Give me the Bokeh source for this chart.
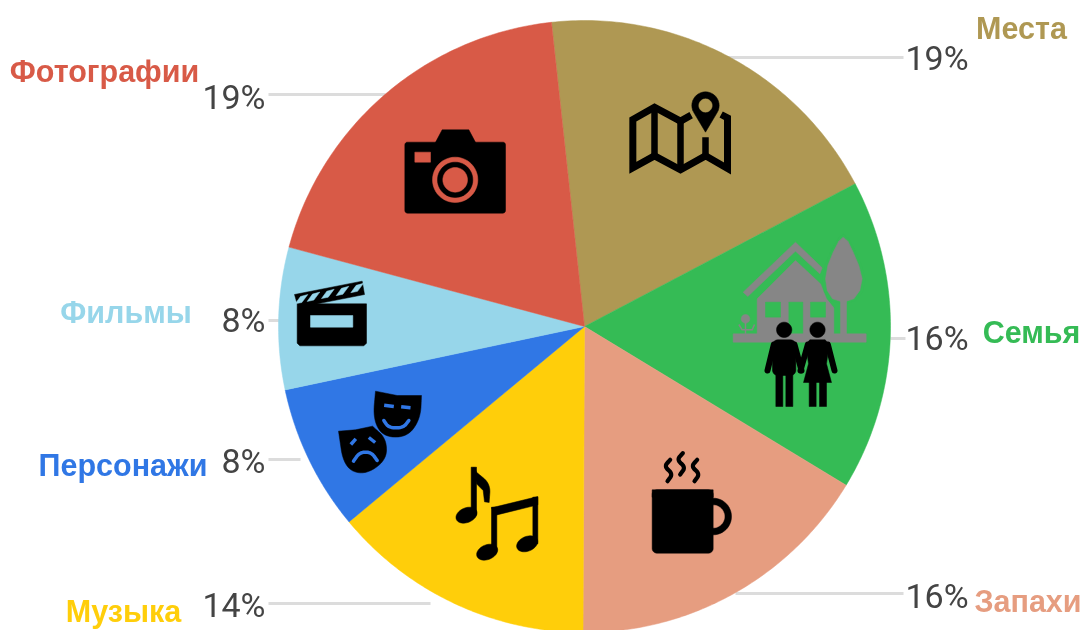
import math
from bokeh.plotting import figure
from bokeh.embed import file_html
from bokeh.resources import INLINE
from bokeh.models import ColumnDataSource
from bokeh.core.properties import value

# ---- data, clockwise from the first slice
categories = ["Места", "Семья", "Запахи", "Музыка", "Персонажи", "Фильмы", "Фотографии"]
shares = [19.0, 16.4, 16.4, 13.9, 7.7, 7.5, 19.1]
pct_labels = ["19%", "16%", "16%", "14%", "8%", "8%", "19%"]
colors = ["#AF9853", "#35BB55", "#E69D80", "#FFCE0A", "#3077E5", "#97D6EA", "#D85A47"]

W, H = 1083, 630
CX, CY, R = 584, 326, 306
START_DEG = -6.2

p = figure(width=W, height=H, x_range=(0, W), y_range=(H, 0), output_backend="svg",
           toolbar_location=None, min_border=0, outline_line_color=None)
p.axis.visible = False
p.grid.visible = False
p.styles = {"position": "fixed", "left": "0px", "top": "0px"}

# ---- leader lines (behind the pie)
leaders = [(725, 903, 57), (890, 905, 338), (735, 903, 593), (268, 430, 603),
           (268, 300, 459), (268, 282, 320), (268, 385, 94)]
for x0, x1, y in leaders:
    p.line([x0, x1], [y, y], line_color="#DCDCDC", line_width=3)

# ---- pie
fractions = [s / sum(shares) for s in shares]
starts, ends, acc = [], [], 0.0
for f in fractions:
    a0 = math.radians(START_DEG - 90) + acc * 2 * math.pi
    acc += f
    a1 = math.radians(START_DEG - 90) + acc * 2 * math.pi
    starts.append(a0)
    ends.append(a1)
pie = ColumnDataSource(dict(start=starts, end=ends, color=colors, cat=categories))
xs_all, ys_all = [], []
for a0, a1 in zip(starts, ends):
    n = 90
    xs_all.append([CX] + [CX + R * math.cos(a0 + (a1 - a0) * i / n) for i in range(n + 1)])
    ys_all.append([CY] + [CY + R * math.sin(a0 + (a1 - a0) * i / n) for i in range(n + 1)])
pie.data["xs"] = xs_all
pie.data["ys"] = ys_all
p.patches("xs", "ys", source=pie, fill_color="color", line_color="color", line_width=0.5)

# ---- icon helpers: points are read in zoom crops (3x) with an origin
def Z(ox, oy, pts):
    return [ox + a / 3 for a, _ in pts], [oy + b / 3 for _, b in pts]

def poly(ox, oy, pts, c):
    x, y = Z(ox, oy, pts)
    p.patch(x, y, fill_color=c, line_color=c, line_width=0.5)

def rect(ox, oy, x0, y0, x1, y1, c):
    poly(ox, oy, [(x0, y0), (x1, y0), (x1, y1), (x0, y1)], c)

def circ(ox, oy, cx, cy, rx, c, ry=None, rot=0.0):
    ry = rx if ry is None else ry
    pts = []
    for i in range(48):
        t = 2 * math.pi * i / 48
        a, b = rx * math.cos(t), ry * math.sin(t)
        pts.append((cx + a * math.cos(rot) - b * math.sin(rot), cy + a * math.sin(rot) + b * math.cos(rot)))
    poly(ox, oy, pts, c)

def stroke(ox, oy, pts, w, c, cap="butt", join="miter"):
    x, y = Z(ox, oy, pts)
    p.line(x, y, line_color=c, line_width=w, line_cap=cap, line_join=join)

def rrect(ox, oy, x0, y0, x1, y1, r, c):
    pts = []
    for cx, cy, s in [(x1 - r, y0 + r, -90), (x1 - r, y1 - r, 0), (x0 + r, y1 - r, 90), (x0 + r, y0 + r, 180)]:
        for i in range(7):
            t = math.radians(s + 15 * i)
            pts.append((cx + r * math.cos(t), cy + r * math.sin(t)))
    poly(ox, oy, pts, c)

def chaikin(pts, n=3):
    # rounds an open curve, its two ends stay where they are
    for _ in range(n):
        out = [pts[0]]
        for (a, b), (c, d) in zip(pts, pts[1:]):
            out.append((0.75 * a + 0.25 * c, 0.75 * b + 0.25 * d))
            out.append((0.25 * a + 0.75 * c, 0.25 * b + 0.75 * d))
        out.append(pts[-1])
        pts = out
    return pts

K = "#000000"
RED, GOLD, GREEN, SALMON, BLUE, SKY = colors[6], colors[0], colors[1], colors[2], colors[4], colors[5]
GREY = "#868686"

# camera
o = (380, 80)
poly(*o, [(185, 148), (265, 148), (290, 195), (160, 195)], K)
rrect(*o, 73, 185, 375, 398, 8, K)
rect(*o, 103, 215, 150, 245, RED)
circ(*o, 224, 298, 68, RED)
circ(*o, 224, 298, 53, K)
circ(*o, 224, 298, 37, RED)

# map with a pin
stroke(*o, [(932, 104), (900, 122), (822, 80), (757, 117), (757, 262), (822, 226), (900, 268),
            (975, 226), (1041, 264), (1041, 112), (1022, 102)], 7, K)
stroke(*o, [(822, 78), (822, 228)], 6.5, K)
stroke(*o, [(900, 120), (900, 270)], 6.5, K)
stroke(*o, [(975, 170), (975, 230)], 6.5, K)
pin = [(975 + 41 * math.cos(math.radians(a)), 75 + 41 * math.sin(math.radians(a))) for a in range(150, 391, 10)]
poly(*o, pin + [(975, 155)], K)
circ(*o, 975, 75, 20, GOLD)

# house, tree and couple
o = (720, 220)
poly(*o, [(68, 215), (225, 65), (305, 142), (298, 160), (225, 92), (82, 228)], GREY)
poly(*o, [(110, 345), (110, 235), (225, 120), (300, 190), (318, 235), (340, 262), (340, 345)], GREY)
rect(*o, 135, 245, 180, 290, GREEN)
rect(*o, 205, 245, 247, 345, GREEN)
rect(*o, 270, 245, 315, 290, GREEN)
tree = [(368, 50), (382, 62), (398, 95), (415, 135), (425, 175), (418, 210), (400, 235), (368, 245),
        (336, 235), (320, 210), (315, 175), (322, 135), (338, 95), (355, 62)]
poly(*o, [(a + (a - 368) * 0.18, b + (b - 160) * 0.08) for a, b in tree], GREEN)
poly(*o, tree, GREY)
rect(*o, 360, 240, 378, 345, GREY)
rect(*o, 38, 340, 437, 365, GREY)
circ(*o, 75, 295, 13, GREY)
stroke(*o, [(55, 312), (65, 328), (95, 328), (102, 312)], 1.5, GREY)
stroke(*o, [(75, 305), (75, 340)], 1.5, GREY)

circ(*o, 191, 328, 23, K)
rrect(*o, 156, 358, 226, 465, 16, K)
rect(*o, 166, 455, 187, 558, K)
rect(*o, 196, 455, 217, 558, K)
stroke(*o, [(160, 372), (141, 450)], 6, K, "round")
stroke(*o, [(222, 372), (243, 450)], 6, K, "round")
circ(*o, 291, 328, 23, K)
poly(*o, [(268, 358), (314, 358), (326, 372), (318, 430), (333, 486), (249, 486), (264, 430), (256, 372)], K)
rect(*o, 266, 480, 287, 558, K)
rect(*o, 297, 480, 318, 558, K)
stroke(*o, [(262, 372), (240, 450)], 6, K, "round")
stroke(*o, [(322, 372), (342, 450)], 6, K, "round")

# clapper board
o = (280, 270)
poly(*o, [(42, 72), (245, 32), (252, 72), (110, 100), (258, 100), (258, 218), (250, 226), (58, 226),
          (50, 218), (50, 100)], K)
rect(*o, 90, 135, 217, 170, SKY)
for sx in (52, 88, 131, 175, 219):
    poly(*o, [(sx + 8, 72 - (sx - 52) * 0.2 + 6), (sx + 30, 68 - (sx - 52) * 0.2 + 4),
              (sx + 12, 96 - (sx - 52) * 0.2), (sx - 8, 100 - (sx - 52) * 0.2)], SKY)

# theatre masks
poly(*o, [(285, 362), (350, 375), (423, 375)] +
     chaikin([(423, 375), (420, 440), (390, 490), (345, 503), (300, 490), (278, 440), (285, 362)]), K)
stroke(*o, [(311, 404), (340, 408)], 3.5, BLUE)
stroke(*o, [(362, 409), (390, 412)], 3.5, BLUE)
stroke(*o, chaikin([(310, 450), (325, 472), (368, 472), (385, 450)]), 3.5, BLUE, "round", "round")
poly(*o, [(174, 482), (225, 478), (276, 467)] +
     chaikin([(276, 467), (318, 505), (318, 570), (250, 615), (190, 590), (174, 482)]), K)
stroke(*o, [(211, 522), (226, 505)], 3.5, BLUE)
stroke(*o, [(265, 501), (284, 516)], 3.5, BLUE)
stroke(*o, chaikin([(219, 572), (238, 545), (272, 545), (290, 570)]), 3.5, BLUE, "round", "round")

# music
o = (440, 440)
circ(*o, 78, 224, 33, K, 22, -0.4)
rect(*o, 92, 80, 108, 224, K)
poly(*o, [(100, 80)] + chaikin([(108, 95), (150, 130), (146, 186)]) + [(132, 184), (128, 150), (108, 130)], K)
circ(*o, 140, 335, 33, K, 22, -0.4)
circ(*o, 260, 310, 33, K, 22, -0.4)
rect(*o, 153, 200, 169, 335, K)
rect(*o, 277, 170, 292, 310, K)
poly(*o, [(153, 202), (292, 168), (292, 193), (166, 224)], K)

# mug
circ(*o, 818, 228, 55, K)
circ(*o, 818, 228, 34, SALMON)
rrect(*o, 635, 148, 818, 338, 14, K)
poly(*o, [(635, 148), (818, 148), (818, 170), (635, 170)], K)
for sx, sy in [(685, 58), (723, 38), (766, 58)]:
    wave = chaikin([(sx + 4, sy), (sx - 14, sy + 20), (sx + 12, sy + 42), (sx - 4, sy + 64)])
    stroke(*o, wave, 4.2, K, "round", "round")

# ---- texts
LABEL_FONT = value("Liberation Sans")
PCT_FONT = value("Roboto")
names_xy = [(1021, 27), (1031, 331), (1027.5, 600), (123, 610), (122.5, 464), (125.5, 311), (104, 70)]
for (x, y), name, c in zip(names_xy, categories, colors):
    p.text([x], [y], text=[name], text_color=c, text_font=LABEL_FONT, text_font_style="bold",
           text_font_size="30.5px", text_align="center", text_baseline="middle")

pct_xy = [(905, 57, "left"), (905, 337, "left"), (905, 595, "left"), (265, 604, "right"),
          (265, 460, "right"), (265, 319, "right"), (265, 96, "right")]
for (x, y, al), t in zip(pct_xy, pct_labels):
    p.text([x], [y], text=[t], text_color="#444444", text_font=PCT_FONT, text_font_size="34px",
           text_align=al, text_baseline="middle")

open("out.html", "w").write(file_html(p, INLINE))
